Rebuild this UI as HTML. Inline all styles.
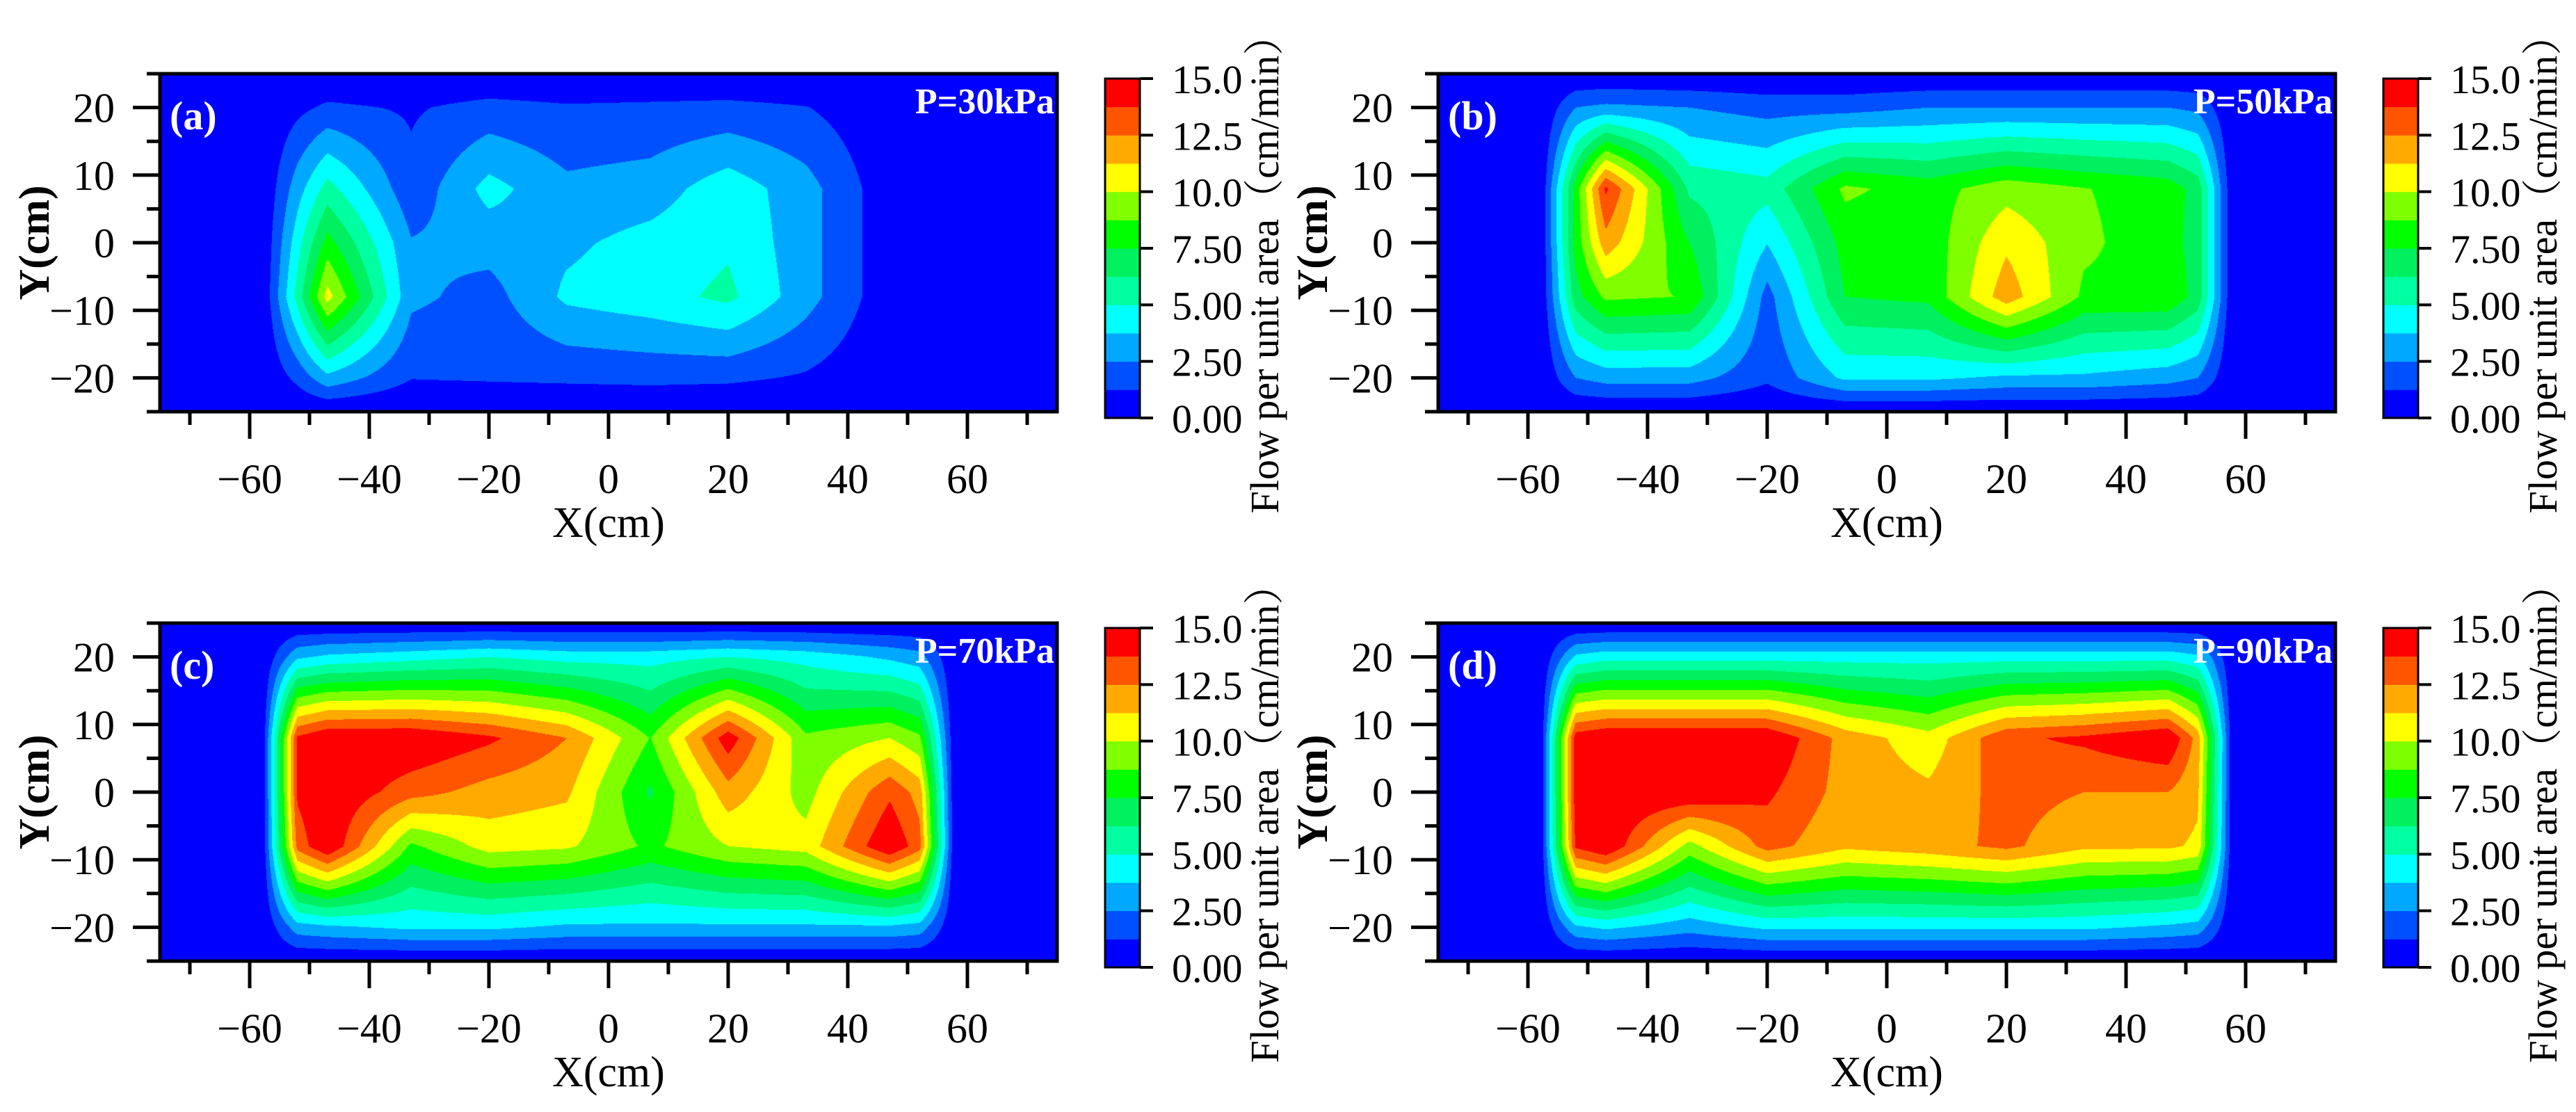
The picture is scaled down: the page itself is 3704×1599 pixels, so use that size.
<!DOCTYPE html>
<html><head><meta charset="utf-8">
<style>
html,body{margin:0;padding:0;background:#fff;}
body{width:3704px;height:1599px;position:relative;overflow:hidden;font-family:"Liberation Serif","Noto Serif CJK SC",serif;}
canvas{position:absolute;}
svg{position:absolute;left:0;top:0;}
</style></head>
<body>
<canvas id="cA" width="1290" height="486" style="left:230px;top:106px"></canvas>
<canvas id="cB" width="1290" height="486" style="left:2068px;top:106px"></canvas>
<canvas id="cC" width="1290" height="486" style="left:230px;top:896px"></canvas>
<canvas id="cD" width="1290" height="486" style="left:2068px;top:896px"></canvas>
<svg id="ov" width="3704" height="1599" xmlns="http://www.w3.org/2000/svg"></svg>
<script>
const xs=[-75,-58,-52,-47,-33,-20,-7,7,20,33,47,52,58,75];
const ys=[-25,-20,-8,0,8,20,25];
const Z=[0,0,0,0,0,0,0,0,0,0,0,0,0,0];
const valsA=[Z,
[0,0,1.6,3.4,1.3,1.4,1.5,1.6,1.5,1.1,0.2,0,0,0],
[0,0,5.5,10.5,2.8,2.0,4.0,4.5,5.3,3.0,0.4,0,0,0],
[0,0,4.5,8,2.6,3.0,3.5,4.2,4.8,3.0,0.4,0,0,0],
[0,0,3.2,5.5,1.6,4.2,2.8,3.1,4.5,3.0,0.4,0,0,0],
[0,0,0.9,1.5,1.1,1.7,1.4,1.5,1.6,1.3,0.2,0,0,0],Z];
const valsB=[Z,
[0,0,2.5,3,3,1.5,4,4,3.5,3.5,3,2.5,0,0],
[0,0,7,9,8.7,2,7.5,7.8,12,8.5,8.5,7,0,0],
[0,0,8,12,7.5,3.8,8,8,11,9,8,7,0,0],
[0,0,8,14,6,5.5,9,8.2,9.5,8.8,8.2,7,0,0],
[0,0,2.5,2.8,2.5,2,2,2.5,2.5,2.5,2.5,2.2,0,0],Z];
const valsC=[Z,
[0,0,3.2,3.5,4,4,3.5,3.5,3.5,3.5,3.5,3.2,0,0],
[0,0,13,15,8.5,10.5,10.2,8.5,10,10.5,15,13,0,0],
[0,0,14,15,13,12,11.5,7.3,12,9.5,13.5,12,0,0],
[0,0,14,15,15,14,12.5,8.7,14.5,9,10,9,0,0],
[0,0,3.5,4,4.5,5,4.5,4.5,5,4.5,3.5,3,0,0],Z];
const valsD=[Z,
[0,0,3.5,4,3,4,4,4,4,4,3.5,3.2,0,0],
[0,0,14,15,9.5,13,11.5,12,12.8,11.5,11.5,11,0,0],
[0,0,14.5,15,15,14,12,11.5,13,12.5,12.5,11.5,0,0],
[0,0,14.5,15,15,15,12,10.5,13.5,14,15,12,0,0],
[0,0,4,4.5,4.5,4.5,4.5,4.5,4.5,4.5,4.5,4,0,0],Z];
const levelColors=["#0000ff","#0050ff","#00a8ff","#00ffff","#00ffa0","#00f060","#00ff00","#80ff00","#ffff00","#ffaa00","#ff5500","#ff0000"];
const cbTicks=["0.00","2.50","5.00","7.50","10.0","12.5","15.0"];
const xTicks=[-60,-40,-20,0,20,40,60];
const yTicks=[-20,-10,0,10,20];
const panels=[
 {id:"cA",vals:valsA,left:230,top:106,tag:"(a)",p:"P=30kPa"},
 {id:"cB",vals:valsB,left:2068,top:106,tag:"(b)",p:"P=50kPa"},
 {id:"cC",vals:valsC,left:230,top:896,tag:"(c)",p:"P=70kPa"},
 {id:"cD",vals:valsD,left:2068,top:896,tag:"(d)",p:"P=90kPa"}];
const W=1290,H=486;
function rgb(h){return [parseInt(h.substr(1,2),16),parseInt(h.substr(3,2),16),parseInt(h.substr(5,2),16)];}
const RGB=levelColors.map(rgb);
function seg(arr,v){let i=0;while(i<arr.length-2&&v>arr[i+1])i++;return i;}
function sample(vals,x,y){
 const i=seg(xs,x),j=seg(ys,y);
 const tx=(x-xs[i])/(xs[i+1]-xs[i]),ty=(y-ys[j])/(ys[j+1]-ys[j]);
 const a=vals[j][i],b=vals[j][i+1],c=vals[j+1][i],d=vals[j+1][i+1];
 return (a*(1-tx)+b*tx)*(1-ty)+(c*(1-tx)+d*tx)*ty;}
const sx=v=>(v+75)/150*W, sy=v=>(25-v)/50*H;
panels.forEach(P=>{
 const ctx=document.getElementById(P.id).getContext("2d");
 const img=ctx.createImageData(W,H);
 for(let py=0;py<H;py++){const y=25-(py+0.5)/H*50;
  for(let px=0;px<W;px++){const x=-75+(px+0.5)/W*150;
   let k=Math.floor(sample(P.vals,x,y)/1.25);if(k<0)k=0;if(k>11)k=11;
   const c=RGB[k],o=(py*W+px)*4;img.data[o]=c[0];img.data[o+1]=c[1];img.data[o+2]=c[2];img.data[o+3]=255;}}
 ctx.putImageData(img,0,0);
});
const NS="http://www.w3.org/2000/svg",svg=document.getElementById("ov");
function el(t,at,txt){const e=document.createElementNS(NS,t);for(const k in at)e.setAttribute(k,at[k]);if(txt!==undefined)e.textContent=txt;svg.appendChild(e);return e;}
panels.forEach((P,pi)=>{
 const L=P.left,T=P.top,R=L+W,B=T+H;
 let e=el("rect",{x:L,y:T,width:W,height:H,fill:"none",stroke:"#000","stroke-width":5});
 
 
 for(let v=-25;v<=25;v+=5){const yy=T+sy(v),maj=v%10===0;
  e=el("line",{x1:L-(maj?39:19),x2:L,y1:yy,y2:yy,stroke:"#000","stroke-width":5});
  
  }
 yTicks.forEach(v=>{e=el("text",{x:L-65,y:T+sy(v)+21,"font-size":60,"text-anchor":"end"},v<0?"\u2212"+(-v):""+v);
  
  });
 for(let v=-70;v<=70;v+=10){const xx=L+sx(v),maj=v%20===0;
  e=el("line",{x1:xx,x2:xx,y1:B,y2:B+(maj?39:19),stroke:"#000","stroke-width":5});
  
  }
 xTicks.forEach(v=>{e=el("text",{x:L+sx(v),y:B+117,"font-size":60,"text-anchor":"middle"},v<0?"\u2212"+(-v):""+v);
  
  });
 e=el("text",{x:L+W/2,y:B+180,"font-size":62,"text-anchor":"middle"},"X(cm)");
 
 
 const yc=T+H/2,xc=L-180;
 e=el("text",{x:xc,y:yc+20,"font-size":62,"font-weight":"bold","text-anchor":"middle",transform:`rotate(-90 ${xc} ${yc})`},"Y(cm)");
 
 
 e=el("text",{x:L+14,y:T+80,"font-size":58,"font-weight":"bold",fill:"#fff"},P.tag);
 
 
 e=el("text",{x:R-4,y:T+57,"font-size":52,"font-weight":"bold",fill:"#fff","text-anchor":"end"},P.p);
 
 
 const cx=R+69,cT=T+7,cH=488,bh=cH/12;
 levelColors.forEach((c,k)=>{e=el("rect",{x:cx,y:cT+cH-(k+1)*bh,width:50,height:bh+0.5,fill:c});
  
  });
 e=el("rect",{x:cx,y:cT,width:50,height:cH,fill:"none",stroke:"#000","stroke-width":3});
 
 
 cbTicks.forEach((t,k)=>{const yy=cT+cH-k*cH/6;
  e=el("line",{x1:cx+50,x2:cx+69,y1:yy,y2:yy,stroke:"#000","stroke-width":4});
  
  
  e=el("text",{x:cx+96,y:yy+21,"font-size":58},t);
  
  });
 const tx=cx+229,ty=T+274;
 e=el("text",{x:tx,y:ty+20,"font-size":58,"text-anchor":"middle",transform:`rotate(-90 ${tx} ${ty})`},"Flow per unit area\uFF08cm/min\uFF09");
 
 
});
</script>
</body></html>
